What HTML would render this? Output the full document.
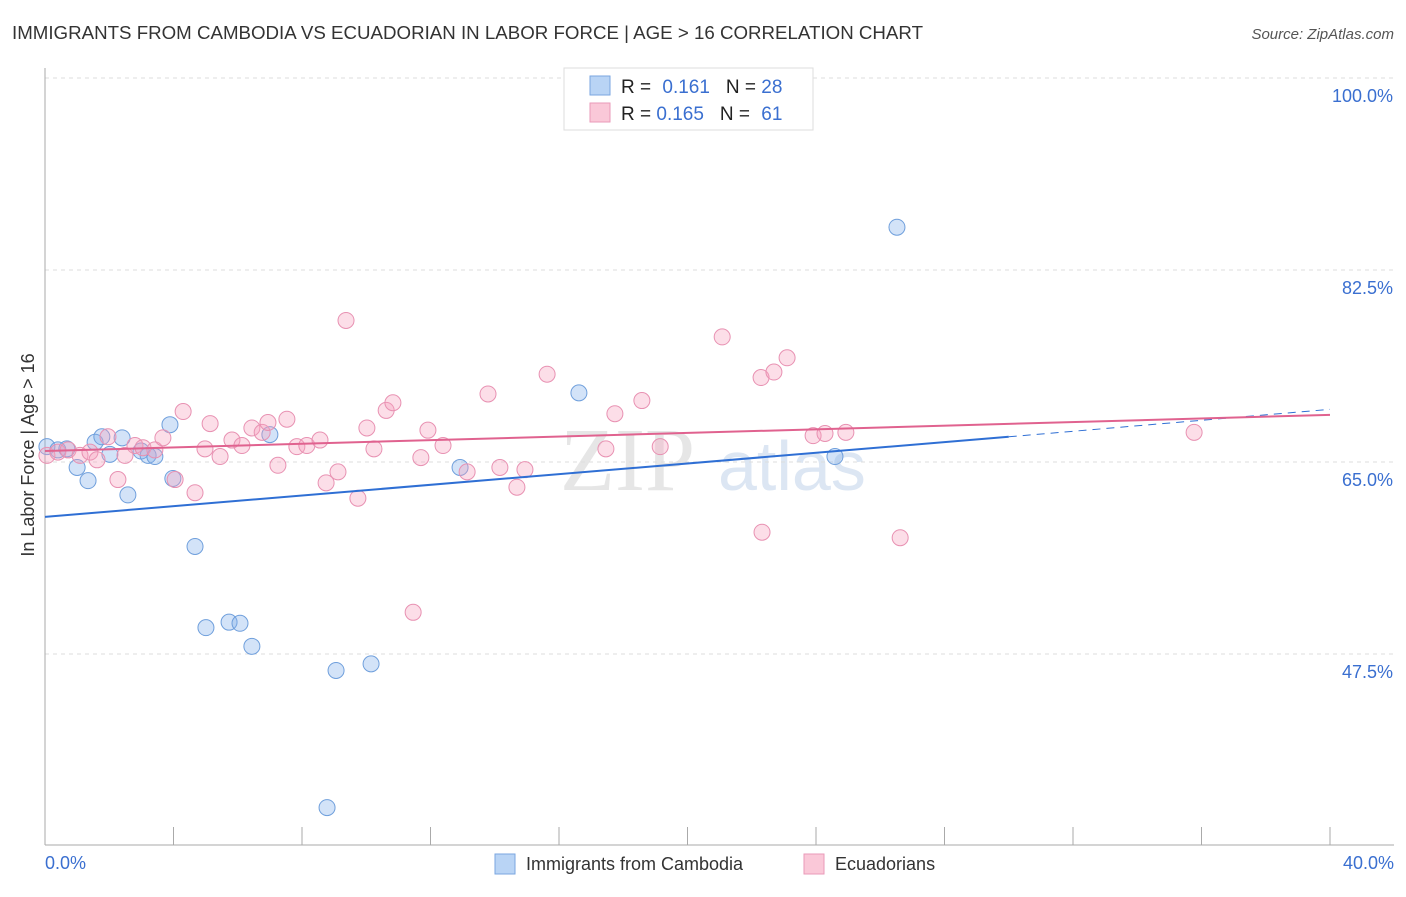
<!DOCTYPE html>
<html><head><meta charset="utf-8"><style>
body{margin:0;background:#fff;font-family:"Liberation Sans",sans-serif;}
</style></head><body>
<svg id="chart" width="1406" height="892" xmlns="http://www.w3.org/2000/svg">
<text x="12" y="39" font-size="18" fill="#333" textLength="911" lengthAdjust="spacingAndGlyphs">IMMIGRANTS FROM CAMBODIA VS ECUADORIAN IN LABOR FORCE | AGE &gt; 16 CORRELATION CHART</text>
<text x="1394" y="39" font-size="15" fill="#555" font-style="italic" text-anchor="end">Source: ZipAtlas.com</text>
<text x="560" y="490" font-size="90" fill="#e6e6e6" font-family="Liberation Serif">ZIP</text>
<text x="718" y="490" font-size="70" fill="#dce6f3">atlas</text>
<g id="grid"></g><g id="axes"></g><g id="marks"></g>
<text transform="translate(34,455) rotate(-90)" font-size="18" fill="#333" text-anchor="middle">In Labor Force | Age &gt; 16</text>
<text x="45" y="869" font-size="18" fill="#3a6fd0">0.0%</text>
<text x="1394" y="869" font-size="18" fill="#3a6fd0" text-anchor="end">40.0%</text>
<g>
<rect x="495" y="854" width="20" height="20" fill="#b9d4f5" stroke="#7aa6e0"/>
<text x="526" y="870" font-size="18" fill="#333">Immigrants from Cambodia</text>
<rect x="804" y="854" width="20" height="20" fill="#fac8d8" stroke="#ea9ab8"/>
<text x="835" y="870" font-size="18" fill="#333">Ecuadorians</text>
</g>
<g>
<rect x="564" y="68" width="249" height="62" fill="#fff" stroke="#ddd"/>
<rect x="590" y="76" width="20" height="19" fill="#b9d4f5" stroke="#7aa6e0"/>
<text x="621" y="93" font-size="19" fill="#222">R = <tspan fill="#3a6fd0" dx="6">0.161</tspan><tspan dx="16">N = </tspan><tspan fill="#3a6fd0">28</tspan></text>
<rect x="590" y="103" width="20" height="19" fill="#fac8d8" stroke="#ea9ab8"/>
<text x="621" y="120" font-size="19" fill="#222">R = <tspan fill="#3a6fd0">0.165</tspan><tspan dx="16">N = </tspan><tspan fill="#3a6fd0" dx="6">61</tspan></text>
</g>
</svg>
<script>
const yTicks=[47.5,65.0,82.5,100.0];
const blueX=[0.06,0.40,0.68,1.00,1.34,1.56,1.77,2.02,2.40,2.58,2.99,3.21,3.42,3.89,3.98,4.67,5.01,5.73,6.07,6.44,7.00,9.06,8.78,10.15,12.92,16.62,24.59,26.52];
const blueY=[66.4,66.1,66.2,64.5,63.3,66.8,67.3,65.7,67.2,62.0,66.0,65.6,65.5,68.4,63.5,57.3,49.9,50.4,50.3,48.2,67.5,46.0,33.5,46.6,64.5,71.3,65.5,86.4];
const pinkX=[0.06,0.40,0.72,1.09,1.40,1.62,1.96,2.27,2.49,2.80,3.05,3.42,3.67,4.05,4.30,4.67,4.98,5.14,5.45,5.82,6.13,6.44,6.76,6.94,7.25,7.53,7.84,8.15,8.56,8.75,9.12,9.37,9.74,10.02,10.24,10.62,10.83,11.46,11.70,11.92,12.39,13.14,13.79,14.16,14.69,14.94,15.63,17.46,17.74,18.58,19.15,21.08,22.29,22.69,23.10,22.32,23.91,24.28,24.93,26.62,35.77];
const pinkY=[65.6,65.9,66.1,65.6,65.9,65.2,67.3,63.4,65.6,66.5,66.3,66.1,67.2,63.4,69.6,62.2,66.2,68.5,65.5,67.0,66.5,68.1,67.7,68.6,64.7,68.9,66.4,66.5,67.0,63.1,64.1,77.9,61.7,68.1,66.2,69.7,70.4,51.3,65.4,67.9,66.5,64.1,71.2,64.5,62.7,64.3,73.0,66.2,69.4,70.6,66.4,76.4,72.7,73.2,74.5,58.6,67.4,67.6,67.7,58.1,67.7];
const blueTrend=[[0,60.0],[30,67.3],[40,69.8]];
const pinkTrend=[[0,66.0],[40,69.3]];
const NS='http://www.w3.org/2000/svg';
const sx=v=>45+v/40*1285;
const sy=v=>462-(v-65)*192/17.5;
function mk(tag,attrs,parent){const e=document.createElementNS(NS,tag);for(const k in attrs)e.setAttribute(k,attrs[k]);document.getElementById(parent).appendChild(e);return e;}
yTicks.forEach(t=>{
 const l=mk('line',{x1:45,x2:1394,y1:sy(t),y2:sy(t),stroke:'#ddd','stroke-dasharray':'4,4'},'grid');
 
 
 const tx=mk('text',{x:1393,y:sy(t)+24,'font-size':18,fill:'#3a6fd0','text-anchor':'end'},'grid');
 tx.textContent=t.toFixed(1)+'%';
 
 
});
let a=mk('line',{x1:45,x2:45,y1:68,y2:845,stroke:'#aaa'},'axes');


a=mk('line',{x1:45,x2:1394,y1:845,y2:845,stroke:'#aaa'},'axes');


for(let i=0;i<=10;i++){
 const t=mk('line',{x1:sx(i*4),x2:sx(i*4),y1:827,y2:845,stroke:'#aaa'},'axes');
 
 
}
function dots(X,Y,fill,stroke,name){
 X.forEach((x,i)=>{
  const c=mk('circle',{cx:sx(x),cy:sy(Y[i]),r:8,fill:fill,stroke:stroke,'stroke-width':1},'marks');
  
  
 });
}
dots(blueX,blueY,'rgba(130,175,235,0.35)','#6f9fdc','cambodia-point');
dots(pinkX,pinkY,'rgba(245,160,190,0.35)','#e891b2','ecuadorian-point');
let bt=mk('line',{x1:sx(blueTrend[0][0]),y1:sy(blueTrend[0][1]),x2:sx(blueTrend[1][0]),y2:sy(blueTrend[1][1]),stroke:'#2f6fd4','stroke-width':2},'marks');


bt=mk('line',{x1:sx(blueTrend[1][0]),y1:sy(blueTrend[1][1]),x2:sx(blueTrend[2][0]),y2:sy(blueTrend[2][1]),stroke:'#2f6fd4','stroke-width':1,'stroke-dasharray':'8,6'},'marks');


const pt=mk('line',{x1:sx(pinkTrend[0][0]),y1:sy(pinkTrend[0][1]),x2:sx(pinkTrend[1][0]),y2:sy(pinkTrend[1][1]),stroke:'#e0628f','stroke-width':2},'marks');


</script>
</body></html>
